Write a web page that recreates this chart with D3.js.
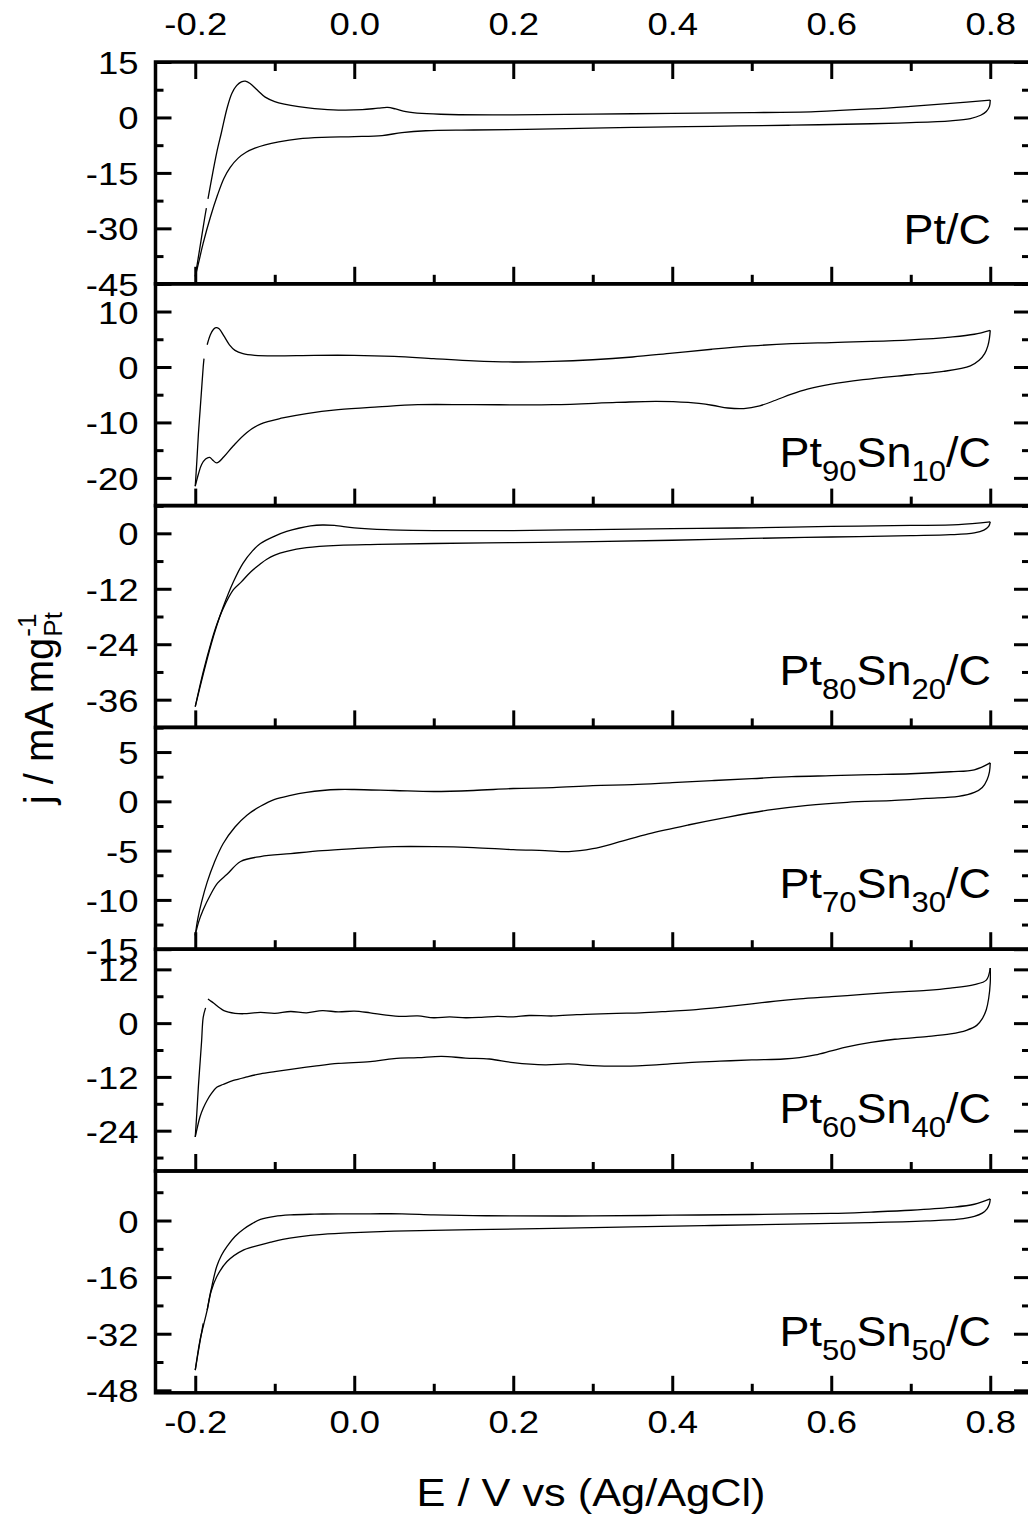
<!DOCTYPE html>
<html>
<head>
<meta charset="utf-8">
<script src="https://cdn.jsdelivr.net/npm/d3@7"></script>
<style>
  body { margin: 0; background: #fff; }
  svg text { font-family: "Liberation Sans", Arial, Helvetica, sans-serif; fill: #000; }
  .wide-c { transform-box: fill-box; transform-origin: 50% 50%; transform: scaleX(1.14); }
  .wide-r { transform-box: fill-box; transform-origin: 100% 50%; transform: scaleX(1.14); }
  .label-r { transform-box: fill-box; transform-origin: 100% 50%; transform: scaleX(1.07); }
</style>
</head>
<body>
<svg id="chart" width="1028" height="1521"></svg>
<script>
// ---- potential axis (shared by all panels) ----
const potentialDomain = [-0.25, 0.85];
const potentialTicks = [-0.2, 0.0, 0.2, 0.4, 0.6, 0.8];
const potentialMinorTicks = [-0.1, 0.1, 0.3, 0.5, 0.7];

// ---- catalyst labels: [text, isSubscript] ----
const catalystLabels = [
  [["Pt", 0], ["/C", 0]],
  [["Pt", 0], ["90", 1], ["Sn", 0], ["10", 1], ["/C", 0]],
  [["Pt", 0], ["80", 1], ["Sn", 0], ["20", 1], ["/C", 0]],
  [["Pt", 0], ["70", 1], ["Sn", 0], ["30", 1], ["/C", 0]],
  [["Pt", 0], ["60", 1], ["Sn", 0], ["40", 1], ["/C", 0]],
  [["Pt", 0], ["50", 1], ["Sn", 0], ["50", 1], ["/C", 0]]
];

// ---- current-density axes per panel ----
const currentDomains = [[-45, 15], [-25, 15], [-42, 6], [-15, 7.5], [-33, 16.5], [-48.7, 14]];
const currentMajorTicks = [
  [-45, -30, -15, 0, 15],
  [-20, -10, 0, 10],
  [-36, -24, -12, 0],
  [-15, -10, -5, 0, 5],
  [-24, -12, 0, 12],
  [-48, -32, -16, 0]
];
const currentMinorTicks = [
  [-37.5, -22.5, -7.5, 7.5],
  [-25, -15, -5, 5, 15],
  [-42, -30, -18, -6, 6],
  [-12.5, -7.5, -2.5, 2.5, 7.5],
  [-30, -18, -6, 6],
  [-40, -24, -8, 8]
];

// ---- voltammograms: [E / V, j / mA mg-1], null = gap in the record ----
const ptC_anodic = [[-0.200,-43.0],[-0.194,-35.0],[-0.188,-27.0],[-0.186,-24.5],null,[-0.184,-22.0],[-0.178,-15.0],[-0.173,-9.5],[-0.167,-4.0],[-0.160,2.5],[-0.154,6.5],[-0.148,8.6],[-0.142,9.6],[-0.137,9.8],[-0.131,9.2],[-0.122,7.4],[-0.112,5.5],[-0.100,4.3],[-0.088,3.6],[-0.070,2.9],[-0.050,2.4],[-0.020,2.0],[0.010,2.1],[0.030,2.5],[0.042,2.7],[0.052,2.3],[0.065,1.6],[0.085,1.1],[0.12,0.8],[0.20,0.7],[0.30,0.9],[0.40,1.1],[0.50,1.3],[0.58,1.6],[0.65,2.3],[0.70,3.0],[0.75,3.8],[0.80,4.7]];
const ptC_cathodic = [[0.800,4.7],[0.799,3.0],[0.795,1.6],[0.788,0.6],[0.775,-0.3],[0.75,-0.9],[0.70,-1.4],[0.65,-1.7],[0.55,-2.1],[0.45,-2.4],[0.35,-2.7],[0.25,-3.1],[0.15,-3.4],[0.09,-3.6],[0.06,-4.1],[0.035,-4.9],[0.0,-5.2],[-0.04,-5.4],[-0.07,-5.8],[-0.095,-6.6],[-0.112,-7.4],[-0.125,-8.3],[-0.136,-9.4],[-0.146,-11.0],[-0.156,-13.5],[-0.164,-16.5],[-0.172,-21.0],[-0.181,-27.0],[-0.190,-34.0],[-0.196,-39.5],[-0.200,-43.0]];

const pt90sn10_anodic = [[-0.200,-21.5],[-0.198,-17.0],[-0.196,-12.0],[-0.194,-8.0],[-0.192,-4.0],[-0.190,0.0],[-0.189,1.5],null,[-0.185,4.0],[-0.181,5.8],[-0.177,6.8],[-0.174,7.1],[-0.170,6.9],[-0.164,5.6],[-0.157,4.0],[-0.150,3.0],[-0.140,2.4],[-0.125,2.1],[-0.10,2.0],[-0.05,2.1],[0.0,2.1],[0.05,1.9],[0.10,1.5],[0.15,1.1],[0.20,0.9],[0.25,1.0],[0.30,1.3],[0.35,1.8],[0.40,2.5],[0.45,3.2],[0.50,3.8],[0.55,4.2],[0.60,4.4],[0.65,4.6],[0.70,4.9],[0.75,5.4],[0.78,5.9],[0.80,6.6]];
const pt90sn10_cathodic = [[0.800,6.6],[0.799,5.2],[0.797,3.8],[0.793,2.4],[0.786,1.2],[0.775,0.2],[0.741,-0.8],[0.70,-1.4],[0.64,-2.3],[0.60,-3.1],[0.57,-4.0],[0.55,-4.9],[0.53,-6.0],[0.51,-7.0],[0.49,-7.5],[0.47,-7.4],[0.45,-6.9],[0.42,-6.4],[0.38,-6.2],[0.33,-6.4],[0.25,-6.8],[0.15,-6.8],[0.08,-6.8],[0.03,-7.2],[-0.02,-7.7],[-0.06,-8.4],[-0.09,-9.2],[-0.118,-10.3],[-0.135,-11.8],[-0.152,-14.2],[-0.164,-16.2],[-0.173,-17.3],[-0.178,-16.8],[-0.182,-16.3],[-0.187,-16.6],[-0.192,-17.6],[-0.196,-19.3],[-0.200,-21.5]];

const pt80sn20_anodic = [[-0.200,-37.5],[-0.190,-30.5],[-0.180,-24.0],[-0.173,-20.0],[-0.165,-16.0],[-0.152,-10.5],[-0.140,-6.5],[-0.128,-3.8],[-0.118,-2.2],[-0.100,-0.6],[-0.085,0.4],[-0.070,1.1],[-0.055,1.6],[-0.040,1.8],[-0.025,1.7],[0.0,1.2],[0.04,0.8],[0.10,0.6],[0.20,0.6],[0.30,0.8],[0.40,1.0],[0.50,1.2],[0.60,1.5],[0.70,1.7],[0.76,1.9],[0.80,2.5]];
const pt80sn20_cathodic = [[0.800,2.5],[0.798,1.5],[0.792,0.7],[0.780,0.1],[0.75,-0.3],[0.70,-0.5],[0.60,-0.8],[0.50,-1.1],[0.40,-1.5],[0.30,-1.8],[0.20,-2.0],[0.10,-2.2],[0.03,-2.4],[-0.02,-2.6],[-0.06,-3.1],[-0.085,-3.9],[-0.100,-4.7],[-0.110,-5.6],[-0.118,-6.6],[-0.130,-8.3],[-0.142,-10.5],[-0.152,-12.2],[-0.165,-16.3],[-0.173,-19.8],[-0.180,-23.6],[-0.190,-30.0],[-0.200,-37.5]];

const pt70sn30_anodic = [[-0.200,-13.6],[-0.197,-12.0],[-0.192,-10.2],[-0.185,-8.2],[-0.176,-6.2],[-0.165,-4.3],[-0.150,-2.6],[-0.135,-1.4],[-0.118,-0.5],[-0.100,0.2],[-0.080,0.6],[-0.060,0.9],[-0.040,1.1],[-0.020,1.2],[0.0,1.2],[0.05,1.1],[0.10,1.0],[0.15,1.1],[0.20,1.3],[0.25,1.4],[0.30,1.6],[0.35,1.7],[0.40,1.9],[0.45,2.1],[0.50,2.3],[0.55,2.5],[0.60,2.6],[0.65,2.7],[0.70,2.8],[0.75,3.0],[0.78,3.2],[0.80,3.9]];
const pt70sn30_cathodic = [[0.800,3.9],[0.799,3.0],[0.796,2.2],[0.790,1.4],[0.780,0.9],[0.760,0.5],[0.72,0.3],[0.68,0.1],[0.62,-0.1],[0.57,-0.4],[0.52,-0.9],[0.47,-1.6],[0.42,-2.4],[0.37,-3.3],[0.33,-4.2],[0.30,-4.8],[0.27,-5.1],[0.24,-5.0],[0.20,-4.9],[0.15,-4.7],[0.10,-4.6],[0.05,-4.6],[0.0,-4.8],[-0.04,-5.0],[-0.08,-5.3],[-0.118,-5.6],[-0.143,-6.1],[-0.160,-7.4],[-0.172,-8.3],[-0.181,-9.5],[-0.190,-11.0],[-0.196,-12.3],[-0.200,-13.6]];

const pt60sn40_anodic = [[-0.200,-25.4],[-0.198,-20.0],[-0.196,-14.0],[-0.194,-9.0],[-0.192,-4.0],[-0.190,1.3],[-0.187,3.4],null,[-0.184,5.4],[-0.181,5.0],[-0.177,4.5],[-0.170,3.5],[-0.164,2.8],[-0.150,2.2],[-0.139,2.1],[-0.118,2.4],[-0.10,2.2],[-0.08,2.6],[-0.06,2.3],[-0.04,2.8],[-0.02,2.5],[0.0,2.7],[0.02,2.3],[0.04,1.8],[0.06,1.5],[0.08,1.6],[0.10,1.2],[0.12,1.4],[0.14,1.2],[0.16,1.3],[0.18,1.5],[0.20,1.4],[0.22,1.7],[0.25,1.6],[0.28,1.9],[0.30,2.0],[0.33,2.2],[0.36,2.3],[0.40,2.7],[0.43,3.0],[0.46,3.5],[0.50,4.3],[0.53,4.9],[0.56,5.4],[0.60,5.9],[0.64,6.4],[0.68,6.9],[0.72,7.3],[0.75,7.8],[0.78,8.6],[0.795,9.6],[0.800,12.3]];
const pt60sn40_cathodic = [[0.800,12.3],[0.800,9.0],[0.798,5.5],[0.795,3.0],[0.790,1.0],[0.783,-0.5],[0.770,-1.6],[0.75,-2.4],[0.72,-3.0],[0.68,-3.6],[0.65,-4.3],[0.62,-5.3],[0.60,-6.2],[0.58,-7.1],[0.56,-7.7],[0.54,-8.0],[0.50,-8.2],[0.46,-8.5],[0.42,-8.8],[0.38,-9.3],[0.34,-9.6],[0.30,-9.5],[0.27,-9.1],[0.24,-9.3],[0.20,-8.8],[0.17,-8.0],[0.14,-7.8],[0.11,-7.4],[0.08,-7.7],[0.05,-7.9],[0.02,-8.6],[-0.02,-9.0],[-0.05,-9.6],[-0.08,-10.3],[-0.10,-10.8],[-0.118,-11.3],[-0.135,-12.0],[-0.152,-12.8],[-0.165,-13.7],[-0.173,-14.3],[-0.180,-15.8],[-0.185,-17.2],[-0.190,-19.0],[-0.194,-20.9],[-0.200,-25.4]];

const pt50sn50_anodic = [[-0.200,-42.3],[-0.195,-35.5],[-0.190,-29.1],null,[-0.185,-25.3],[-0.180,-19.5],[-0.173,-13.0],[-0.167,-9.8],[-0.160,-7.3],[-0.150,-4.5],[-0.139,-2.4],[-0.128,-0.8],[-0.118,0.3],[-0.10,1.2],[-0.08,1.6],[-0.05,1.8],[-0.02,1.9],[0.02,1.9],[0.06,1.9],[0.10,1.6],[0.15,1.4],[0.20,1.3],[0.30,1.3],[0.40,1.5],[0.50,1.7],[0.60,2.0],[0.65,2.4],[0.70,2.9],[0.75,3.7],[0.78,4.6],[0.80,6.1]];
const pt50sn50_cathodic = [[0.800,6.1],[0.799,4.7],[0.796,3.3],[0.790,2.1],[0.780,1.2],[0.760,0.4],[0.72,-0.1],[0.65,-0.6],[0.55,-1.0],[0.45,-1.4],[0.35,-1.8],[0.25,-2.2],[0.15,-2.6],[0.05,-3.0],[0.0,-3.4],[-0.04,-3.9],[-0.07,-4.6],[-0.09,-5.3],[-0.105,-6.1],[-0.118,-6.9],[-0.139,-8.3],[-0.160,-11.6],[-0.173,-15.9],[-0.180,-20.0],[-0.185,-25.3],[-0.190,-30.0],[-0.194,-33.8],[-0.200,-42.3]];

const anodicScans = [ptC_anodic, pt90sn10_anodic, pt80sn20_anodic, pt70sn30_anodic, pt60sn40_anodic, pt50sn50_anodic];
const cathodicScans = [ptC_cathodic, pt90sn10_cathodic, pt80sn20_cathodic, pt70sn30_cathodic, pt60sn40_cathodic, pt50sn50_cathodic];

// ---- layout ----
const svg = d3.select("#chart");
const plotLeft = 155.5, plotRight = 1030, plotTop = 62, panelHeight = 221.8;
const labelBaselines = [244, 467, 685, 898, 1123, 1346];
const nPanels = anodicScans.length;

const x = d3.scaleLinear().domain(potentialDomain).range([plotLeft, plotRight]);
const fmtE = d => d.toFixed(1);
const fmtJ = d => String(d);

function styleAxis(sel, width) {
  sel.select(".domain").remove();
  sel.selectAll(".tick line").attr("stroke", "#000").attr("stroke-width", width);
}

for (let i = 0; i < nPanels; i++) {
  const top = plotTop + i * panelHeight;
  const bottom = top + panelHeight;
  const y = d3.scaleLinear().domain(currentDomains[i]).range([bottom, top]);
  const g = svg.append("g").attr("class", "panel");

  const line = d3.line()
    .defined(d => d !== null)
    .x(d => x(d[0]))
    .y(d => y(d[1]))
    .curve(d3.curveCatmullRom.alpha(0.5));

  [anodicScans[i], cathodicScans[i]].forEach(scan => {
    g.append("path")
      .datum(scan)
      .attr("d", line)
      .attr("fill", "none")
      .attr("stroke", "#000")
      .attr("stroke-width", 1.3);
  });

  // left axis: inward ticks, labels outside
  const left = g.append("g").attr("transform", `translate(${plotLeft},0)`)
    .call(d3.axisLeft(y).tickValues(currentMajorTicks[i]).tickSize(-16).tickPadding(17).tickFormat(fmtJ));
  styleAxis(left, 3);
  left.selectAll("text").attr("font-size", 32).attr("class", "wide-r").attr("dy", "0.36em");
  const leftMinor = g.append("g").attr("transform", `translate(${plotLeft},0)`)
    .call(d3.axisLeft(y).tickValues(currentMinorTicks[i]).tickSize(-8).tickFormat(""));
  styleAxis(leftMinor, 3);

  // right axis: inward ticks only
  const right = g.append("g").attr("transform", `translate(${plotRight},0)`)
    .call(d3.axisRight(y).tickValues(currentMajorTicks[i]).tickSize(-16).tickFormat(""));
  styleAxis(right, 3);
  const rightMinor = g.append("g").attr("transform", `translate(${plotRight},0)`)
    .call(d3.axisRight(y).tickValues(currentMinorTicks[i]).tickSize(-8).tickFormat(""));
  styleAxis(rightMinor, 3);

  // bottom edge: inward potential ticks, labels on the last panel only
  const isLast = i === nPanels - 1;
  const bot = g.append("g").attr("transform", `translate(0,${bottom})`)
    .call(d3.axisBottom(x).tickValues(potentialTicks).tickSize(-17).tickPadding(17)
      .tickFormat(isLast ? fmtE : ""));
  styleAxis(bot, 3);
  bot.selectAll("text").attr("font-size", 32).attr("class", "wide-c");
  const botMinor = g.append("g").attr("transform", `translate(0,${bottom})`)
    .call(d3.axisBottom(x).tickValues(potentialMinorTicks).tickSize(-9).tickFormat(""));
  styleAxis(botMinor, 3);

  if (i === 0) {
    const topAx = g.append("g").attr("transform", `translate(0,${top})`)
      .call(d3.axisTop(x).tickValues(potentialTicks).tickSize(-17).tickPadding(27).tickFormat(fmtE));
    styleAxis(topAx, 3);
    topAx.selectAll("text").attr("font-size", 32).attr("class", "wide-c");
    const topMinor = g.append("g").attr("transform", `translate(0,${top})`)
      .call(d3.axisTop(x).tickValues(potentialMinorTicks).tickSize(-9).tickFormat(""));
    styleAxis(topMinor, 3);
  }

  // frame
  g.append("rect")
    .attr("x", plotLeft).attr("y", top)
    .attr("width", plotRight - plotLeft).attr("height", panelHeight)
    .attr("fill", "none").attr("stroke", "#000").attr("stroke-width", 3.5);

  // catalyst label
  const lbl = g.append("text")
    .attr("x", 991).attr("y", labelBaselines[i])
    .attr("text-anchor", "end")
    .attr("font-size", 42)
    .attr("class", "label-r");
  let shifted = false;
  catalystLabels[i].forEach(([t, sub]) => {
    const ts = lbl.append("tspan").text(t);
    if (sub && !shifted) { ts.attr("dy", 14).attr("font-size", 29); shifted = true; }
    else if (sub) { ts.attr("font-size", 29); }
    else if (shifted) { ts.attr("dy", -14); shifted = false; }
  });
}

// x-axis title
svg.append("text")
  .attr("x", 591).attr("y", 1506)
  .attr("text-anchor", "middle")
  .attr("font-size", 38)
  .attr("class", "wide-c")
  .text("E / V vs (Ag/AgCl)");

// y-axis title with stacked super/subscript
const yTitle = svg.append("g").attr("transform", "translate(53,708) rotate(-90)");
const yMain = yTitle.append("text").attr("font-size", 40).text("j / mA mg");
const mainLen = yMain.node().getComputedTextLength();
const supLen = 26;
const startX = -(mainLen + supLen) / 2;
yMain.attr("x", startX);
yTitle.append("text").attr("font-size", 26).attr("x", startX + mainLen + 1).attr("y", -17).text("-1");
yTitle.append("text").attr("font-size", 26).attr("x", startX + mainLen + 1).attr("y", 9).text("Pt");
</script>
</body>
</html>
